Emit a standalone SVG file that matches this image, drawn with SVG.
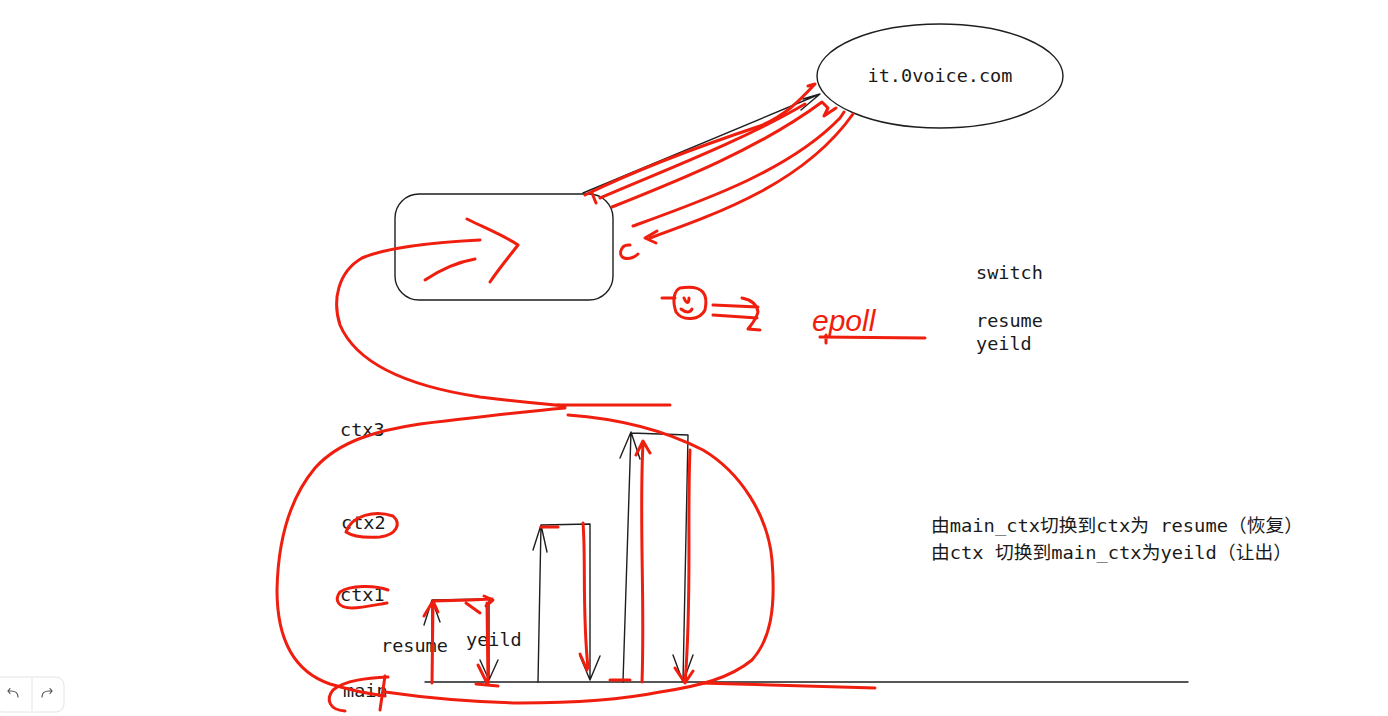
<svg xmlns="http://www.w3.org/2000/svg" width="1388" height="716" viewBox="0 0 1388 716">
<defs>
<style>
.t{font-family:"DejaVu Sans Mono","Liberation Mono","Noto Sans CJK SC",monospace;font-size:18.5px;fill:#1a1a1a}
.cn{font-family:"DejaVu Sans Mono","Noto Sans CJK SC",monospace;font-size:18.5px;fill:#1a1a1a}
.k{fill:none;stroke:#1e1e1e;stroke-width:1.4;stroke-linecap:round;stroke-linejoin:round}
.r{fill:none;stroke:#f01e0e;stroke-width:3;stroke-linecap:round;stroke-linejoin:round}
</style>
</defs>
<rect width="1388" height="716" fill="#ffffff"/>

<g id="server">
<ellipse cx="940" cy="76" rx="123" ry="52" class="k"/>
<text x="940" y="82" class="t" text-anchor="middle">it.0voice.com</text>
</g>

<g id="box">
<rect x="395" y="194" width="218" height="106" rx="24" class="k"/>
</g>

<g id="notes">
<text x="976" y="279" class="t">switch</text>
<text x="976" y="327" class="t">resume</text>
<text x="976" y="350" class="t">yeild</text>
<text x="931" y="532" class="cn" textLength="372" lengthAdjust="spacingAndGlyphs">由main_ctx切换到ctx为 resume（恢复）</text>
<text x="931" y="559" class="cn" textLength="361" lengthAdjust="spacingAndGlyphs">由ctx 切换到main_ctx为yeild（让出）</text>
</g>

<g id="labels">
<text x="340" y="436" class="t">ctx3</text>
<text x="341" y="529" class="t">ctx2</text>
<text x="340" y="601" class="t">ctx1</text>
<text x="343" y="697" class="t">main</text>
<text x="381" y="652" class="t">resume</text>
<text x="466" y="646" class="t">yeild</text>
</g>

<g id="connectors">
<!-- black request arrow -->
<path class="k" d="M583,193 L820,94 M803,99 L820,94 M801,110 L820,94"/>
<!-- timeline -->
<path class="k" d="M425,682 L1188,682"/>
<!-- ctx1 -->
<path class="k" d="M432,682 L432,600 M424,625 L432,600 L440,622 M432,600 L489,599 L489,680 M480,660 L489,680 L498,660"/>
<!-- ctx2 -->
<path class="k" d="M538,682 L541,525 M533,550 L541,525 L547,552 M541,525 L590,524 L590,680 M580,656 L590,680 L600,656"/>
<!-- ctx3 -->
<path class="k" d="M623,682 L631,432 M620,458 L631,432 L640,459 M631,433 L688,435 L683,682 M673,655 L683,682 L693,655"/>

<!-- red strokes: network -->
<path class="r" d="M585,195 C640,168 700,146 760,126 C785,116 800,100 815,84 L808,86"/>
<path class="r" d="M592,193 L596,203 M600,198 C660,172 740,142 805,104"/>
<path class="r" d="M612,207 C680,180 760,148 822,102 L828,108 L824,116 L836,108"/>
<path class="r" d="M633,226 C705,200 790,170 840,118 L844,112"/>
<path class="r" d="M650,238 C722,212 805,182 853,114"/>
<path class="r" d="M657,231 L645,238 L656,243"/>
<path class="r" d="M630,245 C620,244 618,256 624,258 C630,260 636,256 638,254"/>

<!-- red: inside box arrow + loop -->
<path class="r" d="M467,219 C485,228 505,236 518,245 C508,258 498,270 490,282"/>
<path class="r" d="M425,280 C440,270 458,262 475,259"/>
<path class="r" d="M480,240 C440,242 390,246 362,258 C338,272 332,300 340,325 C355,360 400,385 480,397 C520,402 545,404 565,406"/>
<path class="r" d="M557,405 L670,405"/>
<path class="r" d="M565,408 C520,412 470,418 420,424 C380,430 340,440 315,468 C290,498 278,540 277,590 C277,640 295,672 330,684 C350,690 370,694 385,696"/>
<path class="r" d="M568,415 C610,418 660,428 703,450 C740,472 768,515 772,560 C776,610 770,640 752,660 C730,678 700,686 660,692 C620,700 570,703 520,703 C470,702 420,697 385,692"/>
<path class="r" d="M700,683 L875,688"/>

<!-- red circles around labels -->
<path class="r" d="M346,532 C352,515 375,510 393,516 C402,524 396,535 380,537 C365,538 352,536 346,532"/>
<path class="r" d="M388,590 C375,585 350,585 340,592 C334,600 338,608 352,608 C362,608 380,604 387,603"/>
<path class="r" d="M388,677 C368,678 345,680 333,690 C325,700 330,710 345,711"/>
<path class="r" d="M385,676 L380,710"/>

<!-- red bars -->
<path class="r" d="M432,683 L433,603 M424,616 L433,601 L438,612 M433,601 L470,600 L492,599 M484,596 L493,600 L486,606 M466,603 L480,613"/>
<path class="r" d="M487,603 L488,683 M478,665 L487,683 M476,684 L498,686"/>
<path class="r" d="M541,527 L558,527 M583,523 C586,560 582,610 588,668 M580,654 L587,670"/>
<path class="r" d="M610,680 L630,680 M642,682 C645,600 639,520 643,443 M636,455 L643,441 L650,453"/>
<path class="r" d="M690,450 C687,520 692,600 685,683 M675,668 L685,683 L693,671"/>

<!-- epoll notes -->
<path class="r" d="M662,298 L675,298"/>
<path class="r" d="M680,288 C705,284 708,296 705,310 C700,320 683,322 676,312 C672,300 674,291 680,288"/>
<path class="r" d="M684,298 C686,303 689,305 689,298 M681,309 C686,313 690,313 692,309"/>
<path class="r" d="M713,305 L758,307 M713,315 L757,318 M742,298 C752,300 757,305 758,312 C756,320 751,325 748,329 L760,330"/>
<path class="r" d="M820,337 L925,338 M826,335 L826,343"/>
</g>
<text x="812" y="331" font-family="Liberation Sans, sans-serif" font-size="30" fill="#f01e0e" font-style="italic">epoll</text>

<g id="toolbar">
<rect x="-6" y="677" width="70" height="35" rx="8" fill="#fff" stroke="#e4e4e4" stroke-width="1"/>
<line x1="32" y1="678" x2="32" y2="711" stroke="#e4e4e4" stroke-width="1"/>
<path d="M18,697 C18,692 14,691 11,691 L8,691 M10,688.5 L8,691 L10,693.5" fill="none" stroke="#555" stroke-width="1.2" stroke-linecap="round"/>
<path d="M42,697 C42,692 46,691 49,691 L52,691 M50,688.5 L52,691 L50,693.5" fill="none" stroke="#555" stroke-width="1.2" stroke-linecap="round"/>
</g>
</svg>
